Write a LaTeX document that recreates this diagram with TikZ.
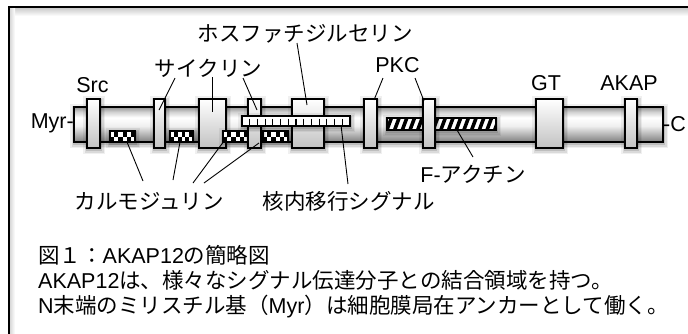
\documentclass[tikz,border=0pt]{standalone}
\usepackage{fontspec}
\setmainfont{Noto Sans CJK JP}
\newfontfamily\lat{Liberation Sans}
\pgfdeclareverticalshading{barshade}{100bp}{color(0bp)=(black!50); color(25bp)=(black!50); color(33bp)=(black!35); color(48bp)=(black!6); color(60bp)=(white); color(68bp)=(black!18); color(75bp)=(black!42); color(100bp)=(black!42)}
\pgfdeclareverticalshading{boxshade}{100bp}{color(0bp)=(black!24); color(25bp)=(black!24); color(75bp)=(white); color(100bp)=(white)}
\tikzset{
  jl/.style={font=\fontsize{21.5}{25}\selectfont, inner sep=0pt, anchor=base},
  ll/.style={font=\lat\fontsize{21.5}{25}\selectfont, inner sep=0pt, anchor=base},
  sh/.style={
    preaction={draw=black, opacity=0.06, line width=9pt, transform canvas={yshift=-1.5pt, xshift=0.5pt}},
    preaction={draw=black, opacity=0.09, line width=6pt, transform canvas={yshift=-1.5pt, xshift=0.5pt}},
    preaction={draw=black, opacity=0.13, line width=3.2pt, transform canvas={yshift=-1.5pt, xshift=0.5pt}}},
  barbox/.style={sh, draw=black, line width=1.3pt, inner sep=0pt, shading=barshade},
  dombox/.style={sh, draw=black, line width=1.3pt, inner sep=0pt, shading=boxshade, minimum height=49pt},
  cmbox/.style={sh, draw=black, line width=1.2pt, fill=white, inner sep=0pt, minimum height=11pt},
  stripbox/.style={sh, draw=black, line width=1.2pt, fill=white, inner sep=0pt},
  link/.style={draw=black, line width=0.9pt},
}
\newcommand\checkerfill[2]{%
  \foreach \k in {0,...,5}{%
    \pgfmathsetmacro\xa{#1+(#2-#1)*\k/6}%
    \pgfmathsetmacro\xb{#1+(#2-#1)*(\k+1)/6}%
    \ifodd\k \fill[black] (\xa,131) rectangle (\xb,136.5); \else \fill[black] (\xa,136.5) rectangle (\xb,142); \fi
  }%
}
\begin{document}
\begin{tikzpicture}[x=1pt,y=-1pt]
\useasboundingbox (0,0) rectangle (688,333);
% frame
\shade[top color=gray!40, bottom color=white] (9,8) rectangle (688,16);
\shade[left color=gray!30, right color=white] (10,8) rectangle (15,333);
\draw[line width=2pt] (9,334) -- (9,7) -- (689,7);

% main bar
\node[barbox, minimum width=589pt, minimum height=35pt] (bar) at (368.5,124.5) {};

% domain boxes
\node[dombox, minimum width=13pt] (src)  at (93.5,123.5) {};
\node[dombox, minimum width=11pt] (cy1)  at (159.5,123.5) {};
\node[dombox, minimum width=27pt] (cy2)  at (212.5,123.5) {};
\node[dombox, minimum width=32pt] (ps)   at (308,123.5) {};
\node[dombox, minimum width=13pt] (pkc1) at (370.5,123.5) {};
\node[dombox, minimum width=27pt] (gt)   at (549.5,123.5) {};
\node[dombox, minimum width=12pt] (akap) at (631,123.5) {};

% calmodulin sites
\node[cmbox, minimum width=25pt] (cm1) at (122.5,136.5) {};
\checkerfill{110}{135}
\draw[line width=1.2pt] (cm1.north west) rectangle (cm1.south east);
\node[cmbox, minimum width=23pt] (cm2) at (181.5,136.5) {};
\checkerfill{170}{193}
\draw[line width=1.2pt] (cm2.north west) rectangle (cm2.south east);
\node[cmbox, minimum width=25pt] (cm3) at (235.5,136.5) {};
\checkerfill{223}{248}
\draw[line width=1.2pt] (cm3.north west) rectangle (cm3.south east);
\node[cmbox, minimum width=25pt] (cm4) at (275.5,136.5) {};
\checkerfill{263}{288}
\draw[line width=1.2pt] (cm4.north west) rectangle (cm4.south east);

\node[dombox, minimum width=13pt] (cy3) at (254.5,123.5) {};

% nuclear localisation signal
\node[stripbox, minimum width=108pt, minimum height=10pt] (nls) at (296,121) {};
\foreach \k in {1,...,13}{\draw[line width=1.1pt] (242+\k*7.714,118.5) -- (242+\k*7.714,126);}

% F-actin
\node[stripbox, minimum width=109pt, minimum height=12pt] (fact) at (441.5,124) {};
\begin{scope}
\clip (387.6,118.6) rectangle (495.4,129.4);
\foreach \k in {0,...,15}{\fill[black] (385+\k*7.7,130) -- ++(3.8,0) -- ++(4.5,-12) -- ++(-3.8,0) -- cycle;}
\end{scope}

\node[dombox, minimum width=12pt] (pkc2) at (429,123.5) {};

% labels
\node[ll] (lsrc) at (92.5,92) {Src};
\node[ll] (lpkc) at (397.5,72) {PKC};
\node[ll] (lgt) at (546,90) {GT};
\node[ll] (lakap) at (629,90) {AKAP};
\node[ll, anchor=base east] (lmyr) at (74,128) {Myr-};
\node[ll, anchor=base west] (lc) at (663,131) {-C};
\node[jl] (lcy) at (208.5,76) {サイクリン};
\node[jl] (lps) at (305,41) {ホスファチジルセリン};
\node[jl] (lcm) at (149,209) {カルモジュリン};
\node[jl] (lnls) at (348.5,209) {核内移行シグナル};
\node[jl] (lfa) at (473,182) {{\lat F-}アクチン};

% caption
\node[jl, anchor=base west] (cap1) at (38,263) {図１：{\lat AKAP12}の簡略図};
\node[jl, anchor=base west] (cap2) at (38,288) {{\lat AKAP12}は、様々なシグナル伝達分子との結合領域を持つ。};
\node[jl, anchor=base west] (cap3) at (38,313) {{\lat N}末端のミリスチル基（{\lat Myr}）は細胞膜局在アンカーとして働く。};

% connector end points
\coordinate (a1) at (175,78);  \coordinate (b1) at (159,110);
\coordinate (a2) at (212,77);  \coordinate (b2) at (212,112);
\coordinate (a3) at (243,78);  \coordinate (b3) at (257,110);
\coordinate (a4) at (297,43);  \coordinate (b4) at (307,105);
\coordinate (a5) at (383,78);  \coordinate (b5) at (374,100);
\coordinate (a6) at (415,78);  \coordinate (b6) at (424,101);
\coordinate (a7) at (143,181); \coordinate (b7) at (127,142);
\coordinate (a8) at (173,180); \coordinate (b8) at (180,142);
\coordinate (a9) at (193,183); \coordinate (b9) at (227,137);
\coordinate (a10) at (204,183); \coordinate (b10) at (259,143);
\coordinate (a11) at (348,184); \coordinate (b11) at (341,125);
\coordinate (a12) at (473,157); \coordinate (b12) at (457,130);

\foreach \i in {1,...,12}{\draw[link] (a\i) -- (b\i);}
\end{tikzpicture}
\end{document}
